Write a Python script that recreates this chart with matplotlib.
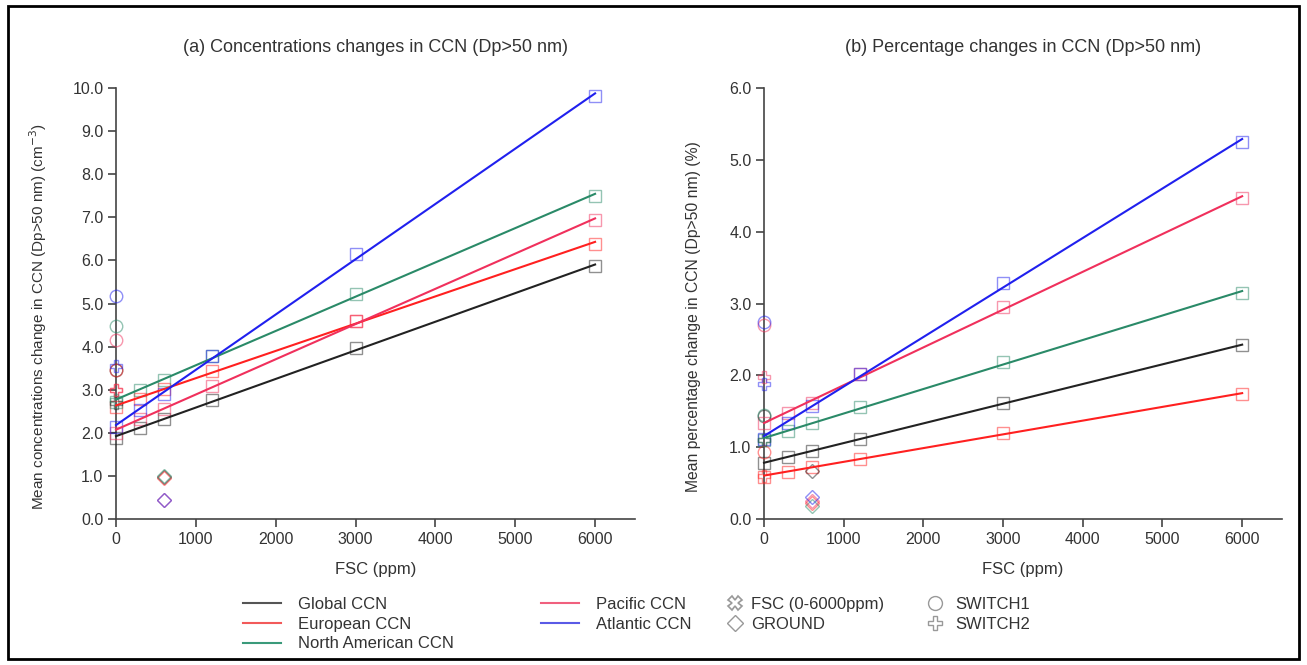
import numpy as np
import matplotlib
matplotlib.use("Agg")
import matplotlib.pyplot as plt
from matplotlib.lines import Line2D
from matplotlib.patches import Rectangle

plt.rcParams['font.family'] = ['Liberation Sans', 'DejaVu Sans']

# ---------------- data ----------------
regions = ['Global CCN', 'European CCN', 'North American CCN', 'Pacific CCN', 'Atlantic CCN']
fsc_ppm = [0, 300, 600, 1200, 3000, 6000]

conc_global = [1.88, 2.10, 2.33, 2.75, 3.97, 5.87]
conc_european = [2.60, 2.79, 3.02, 3.43, 4.60, 6.39]
conc_namerica = [2.72, 3.00, 3.23, 3.78, 5.23, 7.50]
conc_pacific = [2.00, 2.33, 2.56, 3.08, 4.60, 6.93]
conc_atlantic = [2.14, 2.52, 2.91, 3.79, 6.14, 9.81]

pct_global = [0.78, 0.86, 0.95, 1.11, 1.62, 2.42]
pct_european = [0.59, 0.66, 0.72, 0.84, 1.20, 1.74]
pct_namerica = [1.10, 1.22, 1.33, 1.56, 2.19, 3.15]
pct_pacific = [1.33, 1.47, 1.62, 2.02, 2.95, 4.47]
pct_atlantic = [1.12, 1.33, 1.57, 2.02, 3.29, 5.25]

# other experiments (order: Global, European, North American, Pacific, Atlantic)
ground_ppm = 600
switch_ppm = 0
ground_conc = [0.97, 0.95, 1.00, 0.45, 0.45]
switch1_conc = [3.45, 3.45, 4.48, 4.15, 5.17]
switch2_conc = [2.70, 3.00, 2.75, 3.00, 3.55]
ground_pct = [0.67, 0.22, 0.18, 0.25, 0.31]
switch1_pct = [1.43, 0.93, 1.45, 2.70, 2.74]
switch2_pct = [1.10, 0.60, 1.10, 1.97, 1.88]

colors = ['#222222', '#ff2020', '#2a8a68', '#f0305c', '#2020ee']
legend_colors = ['#555555', '#f25a5a', '#3a9a7a', '#f0607e', '#5a5ae6']

conc_series = [conc_global, conc_european, conc_namerica, conc_pacific, conc_atlantic]
pct_series = [pct_global, pct_european, pct_namerica, pct_pacific, pct_atlantic]

# ---------------- figure ----------------
W, H = 1307, 665
fig = plt.figure(figsize=(W / 100, H / 100), dpi=100)
fig.patches.append(Rectangle((8 / W, 6 / H), (1299 - 8) / W, (659 - 6) / H,
                             transform=fig.transFigure, fill=False,
                             edgecolor='black', linewidth=2))

def px_axes(x0, x1, ytop, ybot):
    return fig.add_axes([x0 / W, (H - ybot) / H, (x1 - x0) / W, (ybot - ytop) / H])

axA = px_axes(116, 635, 88, 519)
axB = px_axes(764, 1282, 88, 519)

text_col = '#333333'

def draw(ax, series, ground, sw1, sw2, ymax, title, ylabel, ylabel_x, ylabel_fs):
    xs = np.array(fsc_ppm, dtype=float)
    for vals, c in zip(series, colors):
        ax.plot(xs, vals, linestyle='none', marker='s', ms=9, mfc='none',
                mec=c, mew=1.0, alpha=0.5, clip_on=False, zorder=3)
        k, b = np.polyfit(xs, np.array(vals), 1)
        xl = np.array([0.0, 6000.0])
        ax.plot(xl, k * xl + b, color=c, lw=1.5, zorder=4, clip_on=False)
    for i, c in enumerate(colors):
        ax.plot([ground_ppm], [ground[i]], linestyle='none', marker='D', ms=7,
                mfc='none', mec=c, mew=1.0, alpha=0.5, clip_on=False, zorder=3)
        ax.plot([switch_ppm], [sw1[i]], linestyle='none', marker='o', ms=9,
                mfc='none', mec=c, mew=1.0, alpha=0.5, clip_on=False, zorder=3)
        ax.plot([switch_ppm], [sw2[i]], linestyle='none', marker='P', ms=9,
                mfc='none', mec=c, mew=1.0, alpha=0.5, clip_on=False, zorder=3)
    ax.set_xlim(0, 6500)
    ax.set_ylim(0, ymax)
    ax.set_xticks(np.arange(0, 6001, 1000))
    ax.set_yticks(np.arange(0, ymax + 0.01, 1.0))
    ax.set_yticklabels(['%.1f' % v for v in np.arange(0, ymax + 0.01, 1.0)])
    for s in ['top', 'right']:
        ax.spines[s].set_visible(False)
    for s in ['left', 'bottom']:
        ax.spines[s].set_color('#444444')
        ax.spines[s].set_linewidth(1.2)
    ax.tick_params(direction='out', length=6, width=1.2, color='#444444',
                   labelsize=11.5, labelcolor=text_col, pad=3)
    ax.text(0.5, 1.095, title, transform=ax.transAxes, ha='center', va='center',
            fontsize=13, color=text_col)
    ax.text(ylabel_x, 0.47, ylabel, transform=ax.transAxes, ha='center', va='center',
            rotation=90, fontsize=ylabel_fs, color=text_col)
    ax.text(0.5, -0.118, 'FSC (ppm)', transform=ax.transAxes, ha='center',
            va='center', fontsize=12, color=text_col)

draw(axA, conc_series, ground_conc, switch1_conc, switch2_conc, 10.0,
     '(a) Concentrations changes in CCN (Dp>50 nm)',
     'Mean concentrations change in CCN (Dp>50 nm) (cm$^{-3}$)', -0.150, 11.0)
draw(axB, pct_series, ground_pct, switch1_pct, switch2_pct, 6.0,
     '(b) Percentage changes in CCN (Dp>50 nm)',
     'Mean percentage change in CCN (Dp>50 nm) (%)', -0.137, 11.3)

# ---------------- legends ----------------
line_handles = [Line2D([], [], color=c, lw=1.5) for c in legend_colors]
gray = '#999999'
exp_handles = [
    Line2D([], [], linestyle='none', marker='X', ms=10, mfc='white', mec=gray, mew=1.2),
    Line2D([], [], linestyle='none', marker='D', ms=8, mfc='none', mec=gray, mew=1.0),
    Line2D([], [], linestyle='none', marker='o', ms=10, mfc='none', mec=gray, mew=1.0),
    Line2D([], [], linestyle='none', marker='P', ms=10, mfc='none', mec=gray, mew=1.0),
]
exp_labels = ['FSC (0-6000ppm)', 'GROUND', 'SWITCH1', 'SWITCH2']

LEG_FS = 12

def put_legend(handles, labels, x_px, y_px, hl=2.3, pad=1.0):
    leg = fig.legend(handles, labels, loc='upper left',
                     bbox_to_anchor=(x_px / W, (H - y_px) / H),
                     frameon=False, fontsize=LEG_FS, handlelength=hl,
                     handletextpad=pad, labelspacing=0.28, borderpad=0,
                     borderaxespad=0)
    for t in leg.get_texts():
        t.set_color(text_col)
    return leg

put_legend(line_handles[:3], regions[:3], 243, 597)
put_legend(line_handles[3:], regions[3:], 541, 597)
put_legend(exp_handles[:2], exp_labels[:2], 727, 597, hl=1.0, pad=0.42)
put_legend(exp_handles[2:], exp_labels[2:], 927, 597, hl=1.0, pad=0.7)

fig.savefig('out.png', dpi=100)
